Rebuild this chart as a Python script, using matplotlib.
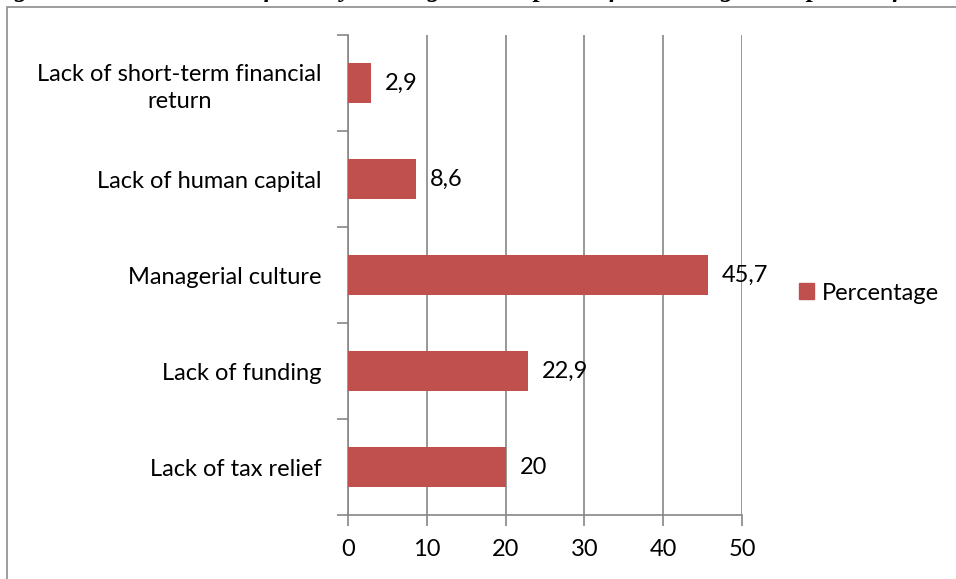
import matplotlib.pyplot as plt
from matplotlib.patches import Rectangle, Patch

plt.rcParams['font.family'] = ['Lato', 'DejaVu Sans']

# obstacles, bottom to top as drawn on the y axis
obstacles = ['Lack of tax relief', 'Lack of funding', 'Managerial culture',
             'Lack of human capital', 'Lack of short-term financial\nreturn']
percentage = [20, 22.9, 45.7, 8.6, 2.9]
x_ticks = [0, 10, 20, 30, 40, 50]

bar_color = '#C0504D'
grid_color = '#868686'
fs = 17

fig = plt.figure(figsize=(9.56, 5.79), dpi=100)

# frame round the chart
fig.patches.append(Rectangle((7 / 956, -0.01), 1.0, 1 - 7 / 579 + 0.01,
                             transform=fig.transFigure, fill=False,
                             edgecolor='#8c8c8c', linewidth=1.2))

# caption line, its top runs off the page
fig.text(-0.009, 1 + 2.5 / 579,
         'Figure 3: Main obstacles faced by the targeted companies for a strong development of CSR policy',
         fontsize=18.5, fontweight='bold', fontstyle='italic', family='Liberation Serif',
         va='baseline', ha='left')

ax = fig.add_axes([348 / 956, 1 - 515 / 579, (742 - 348) / 956, (515 - 35) / 579])

pos = list(range(len(obstacles)))
ax.barh(pos, percentage, height=0.41, color=bar_color, zorder=3)

for p, v in zip(pos, percentage):
    ax.annotate(('%g' % v).replace('.', ','), (v, p), xytext=(10, 0),
                textcoords='offset points', va='center', ha='left', fontsize=fs)

ax.set_xlim(0, 50)
ax.set_ylim(-0.5, len(obstacles) - 0.5)
ax.set_xticks(x_ticks)
ax.set_xticklabels([str(t) for t in x_ticks], fontsize=fs)
ax.xaxis.grid(True, color=grid_color, linewidth=1.2, zorder=0)

ax.set_yticks(pos)
ax.set_yticklabels(obstacles, fontsize=fs, multialignment='center', linespacing=1.35)
ax.set_yticks([p - 0.5 for p in range(len(obstacles) + 1)], minor=True)
ax.tick_params(axis='y', which='major', length=0, pad=19)
ax.tick_params(axis='y', which='minor', length=8, color=grid_color, width=1.2)
ax.tick_params(axis='x', length=8, color=grid_color, width=1.2, pad=9)

for side in ['top', 'right']:
    ax.spines[side].set_visible(False)
for side in ['left', 'bottom']:
    ax.spines[side].set_color(grid_color)
    ax.spines[side].set_linewidth(1.2)

ax.legend(handles=[Patch(color=bar_color, label='Percentage')], loc='center left',
          bbox_to_anchor=((799 - 348) / 394, (515 - 293) / 480), frameon=False,
          fontsize=fs, borderpad=0, borderaxespad=0,
          handlelength=0.65, handleheight=0.65, handletextpad=0.3)

fig.savefig('out.png', dpi=100)
